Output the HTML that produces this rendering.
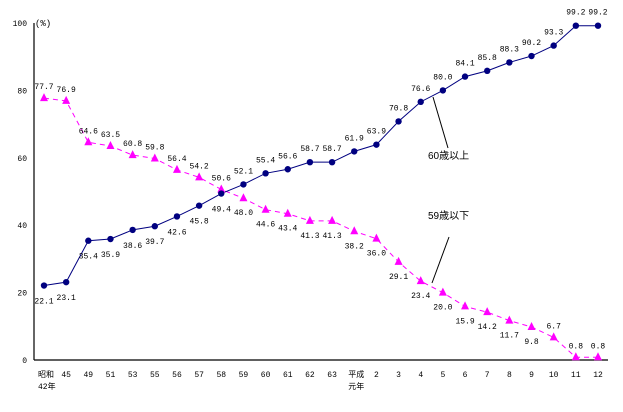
<!DOCTYPE html>
<html><head><meta charset="utf-8">
<style>
body{margin:0;background:#fff;}
svg text{font-family:"Liberation Mono","Noto Sans CJK JP",monospace;font-size:8px;fill:#000;}
</style></head>
<body>
<svg id="chart" width="623" height="407" viewBox="0 0 623 407" xmlns="http://www.w3.org/2000/svg">
<g id="axes"></g>
<g id="series"></g>
<text x="35" y="26" style="font-size:9px">(%)</text>
<line x1="433" y1="97" x2="448" y2="148" stroke="#000"/>
<text x="428" y="159" style="font-family:'Liberation Sans','Noto Sans CJK JP',sans-serif;font-size:10px">60歳以上</text>
<line x1="449" y1="237" x2="432" y2="283" stroke="#000"/>
<text x="428" y="219" style="font-family:'Liberation Sans','Noto Sans CJK JP',sans-serif;font-size:10px">59歳以下</text>
</svg>
<script>
const categories=["昭和|42年","45","49","51","53","55","56","57","58","59","60","61","62","63","平成|元年","2","3","4","5","6","7","8","9","10","11","12"];
const over60=[22.1,23.1,35.4,35.9,38.6,39.7,42.6,45.8,49.4,52.1,55.4,56.6,58.7,58.7,61.9,63.9,70.8,76.6,80.0,84.1,85.8,88.3,90.2,93.3,99.2,99.2];
const under59=[77.7,76.9,64.6,63.5,60.8,59.8,56.4,54.2,50.6,48.0,44.6,43.4,41.3,41.3,38.2,36.0,29.1,23.4,20.0,15.9,14.2,11.7,9.8,6.7,0.8,0.8];
const yTicks=[0,20,40,60,80,100];
const NS="http://www.w3.org/2000/svg";
const x0=44,dx=22.16,yBase=360,yScale=3.37;
const X=i=>x0+i*dx, Y=v=>yBase-v*yScale;
const axes=document.getElementById('axes'), ser=document.getElementById('series');
function mk(tag,attrs,parent){const e=document.createElementNS(NS,tag);for(const k in attrs)e.setAttribute(k,attrs[k]);parent.appendChild(e);return e;}
let l=mk('line',{x1:34,y1:Y(100),x2:34,y2:yBase,stroke:'#000','stroke-width':1.2},axes);


l=mk('line',{x1:34,y1:yBase,x2:608,y2:yBase,stroke:'#000','stroke-width':1.2},axes);


yTicks.forEach(v=>{const t=mk('text',{x:27,y:Y(v)+3,'text-anchor':'end'},axes);t.textContent=v;

});
categories.forEach((c,i)=>{const parts=c.split('|');parts.forEach((p,j)=>{const t=mk('text',{x:X(i)+(parts.length>1?-6:0),y:377+j*12,'text-anchor':parts.length>1?'start':'middle'},axes);t.textContent=p;

});});
let pl=mk('polyline',{points:under59.map((v,i)=>X(i)+','+Y(v)).join(' '),fill:'none',stroke:'#ff00ff','stroke-width':1,'stroke-dasharray':'5,4'},ser);


pl=mk('polyline',{points:over60.map((v,i)=>X(i)+','+Y(v)).join(' '),fill:'none',stroke:'#000080','stroke-width':1},ser);


under59.forEach((v,i)=>{const x=X(i),y=Y(v);
const p=mk('polygon',{points:`${x-4},${y+3} ${x+4},${y+3} ${x},${y-5}`,fill:'#ff00ff'},ser);


const above=(i<9||i>=23);
const t=mk('text',{x:x,y:above?y-9:y+17,'text-anchor':'middle'},ser);t.textContent=v.toFixed(1);

});
over60.forEach((v,i)=>{const x=X(i),y=Y(v);
const c=mk('circle',{cx:x,cy:y,r:3.2,fill:'#000080'},ser);


const below=i<9;
const t=mk('text',{x:x,y:below?y+18:y-11,'text-anchor':'middle'},ser);t.textContent=v.toFixed(1);

});
</script>
</body></html>
